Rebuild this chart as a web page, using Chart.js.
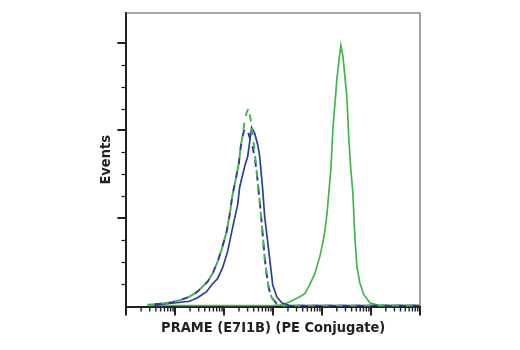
<!DOCTYPE html>
<html>
<head>
<meta charset="utf-8">
<script src="https://cdn.jsdelivr.net/npm/chart.js@4"></script>
<style>
  body { margin: 0; background: #ffffff; }
  #wrap { width: 520px; height: 350px; }
</style>
</head>
<body>
<div id="wrap"><canvas id="flowChart" width="520" height="350"></canvas></div>
<script>
// PRAME (E7I1B) PE histogram
const posGreenX = [2.7, 850, 1570, 2180, 3490, 4420, 5590, 7080, 8970, 10330, 11350, 12500, 13710, 15060, 16550, 19990, 21980, 24150, 26540, 30560, 32000, 35160, 38640, 42460, 46660, 51280, 59020, 71290, 94640, 151700, 1000000];
const posGreenY = [0, 0, 1.1, 4.6, 10.3, 13.7, 24, 36.6, 56, 72, 84.6, 104, 129, 155, 201, 258, 279, 297, 285, 250, 239, 190, 155, 129, 79, 45, 26, 12.6, 3.4, 0, 0];

const posBlueX = [3.74, 6.59, 10.6, 19.5, 28.4, 43.5, 57.7, 73.1, 92.5, 117, 148, 188, 206, 238, 261, 301, 330, 363, 418, 482, 530, 610, 670, 772, 889, 977, 1180, 1494, 2179, 1000000];
const posBlueY = [0.6, 2.3, 3.4, 5.1, 9.1, 16, 25.1, 30.9, 43.4, 61.7, 89.1, 115.4, 134.9, 149.7, 158.9, 170.3, 186.3, 203.4, 196.6, 184, 170.3, 132.6, 101.7, 73.1, 43.4, 24, 10.3, 3.4, 0, 0];

const isoGreenX = [2.69, 4.74, 8.75, 13.4, 19.5, 28.4, 45.6, 57.7, 73.1, 88.2, 112, 129, 148, 171, 197, 216, 238, 261, 287, 315, 346, 380, 418, 459, 505, 555, 610, 670, 736, 809, 933, 1180, 1570, 1000000];
const isoGreenY = [1.1, 2.3, 4, 6.9, 10.3, 16, 27.4, 36.6, 50.3, 64, 84.6, 104, 126.9, 144, 161.1, 180.6, 195.4, 210.3, 220.6, 225.1, 212.6, 194.3, 176, 153.1, 130.3, 107.4, 81.1, 54.9, 35.4, 20.6, 9.1, 2.3, 0, 0];

const isoBlueX = [2.69, 4.74, 8.75, 13.4, 19.5, 28.4, 45.6, 57.7, 73.1, 88.2, 112, 129, 148, 171, 197, 216, 238, 261, 301, 330, 380, 418, 459, 505, 555, 610, 670, 736, 809, 933, 1180, 1570, 1000000];
const isoBlueY = [1.1, 2.3, 4, 6.9, 10.3, 16, 27.4, 36.6, 50.3, 64, 84.6, 104, 126.9, 144, 161.1, 180.6, 194, 202, 200, 192, 181, 170, 153.1, 130.3, 107.4, 81.1, 54.9, 35.4, 20.6, 9.1, 2.3, 0, 0];

// axis tick positions (no labels in the original)
const xDecades = [1, 10, 100, 1000, 10000, 100000, 1000000];
const xSubSteps = [2, 3, 4, 5, 6, 7, 8, 9];

const xTitle = 'PRAME (E7I1B) (PE Conjugate)';
const yTitle = 'Events';

const BLUE = '#2d3e98';
const GREEN = '#41b649';
const INK = '#231f20';
const titleFont = { family: "'Liberation Sans Narrow', 'DejaVu Sans Condensed', 'Arial Narrow', sans-serif", size: 14.5, weight: 'bold' };

function toPoints(xs, ys) {
    return xs.map((x, i) => ({ x: x, y: ys[i] }));
}

// gray box on top and right side of the plot
const framePlugin = {
    id: 'frame',
    beforeDatasetsDraw(chart) {
        const { ctx, chartArea: a } = chart;
        ctx.save();
        ctx.strokeStyle = '#8a8a8a';
        ctx.lineWidth = 1.5;
        ctx.beginPath();
        ctx.moveTo(a.left, a.top);
        ctx.lineTo(a.right, a.top);
        ctx.lineTo(a.right, a.bottom);
        ctx.stroke();
        ctx.restore();
    }
};

// long ticks on decades / every 100 events, short ticks in between
const tickMarkPlugin = {
    id: 'tickMarks',
    afterDraw(chart) {
        const { ctx, chartArea: a, scales } = chart;
        const xs = scales.x;
        ctx.save();
        ctx.strokeStyle = INK;
        // minor x ticks
        ctx.lineWidth = 1.4;
        ctx.beginPath();
        for (let i = 0; i < xDecades.length - 1; i++) {
            for (let j = 0; j < xSubSteps.length; j++) {
                const px = xs.getPixelForValue(xDecades[i] * xSubSteps[j]);
                ctx.moveTo(px, a.bottom);
                ctx.lineTo(px, a.bottom + 5);
            }
        }
        ctx.stroke();
        // major x ticks
        ctx.lineWidth = 2;
        ctx.beginPath();
        xDecades.forEach(d => {
            const px = Math.round(xs.getPixelForValue(d));
            ctx.moveTo(px, a.bottom);
            ctx.lineTo(px, a.bottom + 9);
        });
        ctx.stroke();
        // y ticks
        scales.y.ticks.forEach(t => {
            const major = t.value % 100 === 0;
            const py = Math.round(scales.y.getPixelForValue(t.value)) + (major ? 0 : 0.5);
            ctx.lineWidth = major ? 2 : 1.2;
            ctx.beginPath();
            ctx.moveTo(a.left, py);
            ctx.lineTo(a.left - (major ? 9 : 5), py);
            ctx.stroke();
        });
        ctx.restore();
    }
};

new Chart(document.getElementById('flowChart'), {
    type: 'line',
    data: {
        datasets: [
            {
                label: 'Isotype (green)',
                data: toPoints(isoGreenX, isoGreenY),
                borderColor: GREEN,
                borderWidth: 2,
                borderDash: [7, 7]
            },
            {
                label: 'Isotype (blue)',
                data: toPoints(isoBlueX, isoBlueY),
                borderColor: BLUE,
                borderWidth: 2,
                borderDash: [7, 7],
                borderDashOffset: 7
            },
            {
                label: 'PRAME (blue)',
                data: toPoints(posBlueX, posBlueY),
                borderColor: BLUE,
                borderWidth: 1.7
            },
            {
                label: 'PRAME (green)',
                data: toPoints(posGreenX, posGreenY),
                borderColor: GREEN,
                borderWidth: 1.7
            }
        ]
    },
    options: {
        responsive: false,
        animation: false,
        events: [],
        layout: {
            padding: { left: 92, right: 100, top: 13, bottom: 9 }
        },
        elements: {
            point: { radius: 0 },
            line: { tension: 0, fill: false }
        },
        plugins: {
            legend: { display: false },
            tooltip: { enabled: false }
        },
        scales: {
            x: {
                type: 'logarithmic',
                min: 1,
                max: 1000000,
                border: { color: INK, width: 2 },
                grid: {
                    drawOnChartArea: false,
                    tickLength: 9,
                    tickColor: 'rgba(0,0,0,0)'
                },
                ticks: { display: false },
                title: {
                    display: true,
                    text: xTitle,
                    color: INK,
                    font: titleFont,
                    padding: { top: 4, bottom: 4 }
                }
            },
            y: {
                type: 'linear',
                min: -1,
                max: 334,
                ticks: { display: false, stepSize: 25 },
                afterBuildTicks: scale => {
                    scale.ticks = scale.ticks.filter(t => t.value >= 0 && t.value % 25 === 0);
                },
                border: { color: INK, width: 2 },
                grid: {
                    drawOnChartArea: false,
                    tickLength: 9,
                    tickColor: 'rgba(0,0,0,0)'
                },
                title: {
                    display: true,
                    text: yTitle,
                    color: INK,
                    font: titleFont,
                    padding: { top: 6, bottom: 2 }
                }
            }
        }
    },
    plugins: [framePlugin, tickMarkPlugin]
});
</script>
</body>
</html>
